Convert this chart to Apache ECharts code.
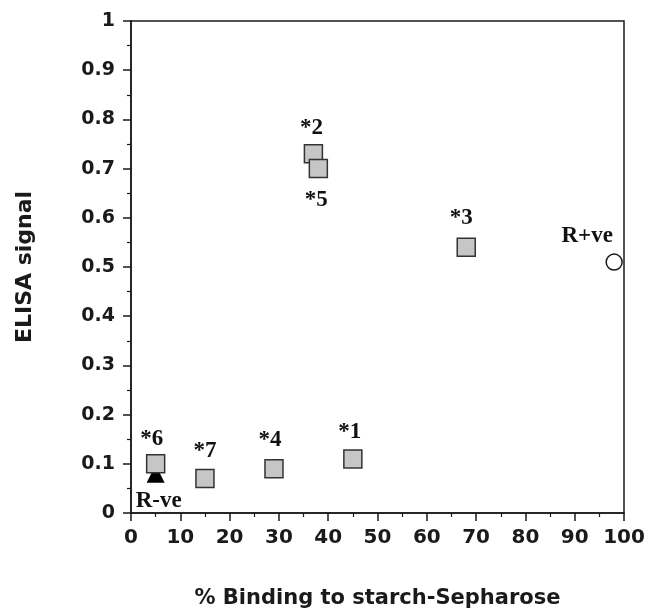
<!DOCTYPE html>
<html>
<head>
<meta charset="utf-8">
<script src="https://cdn.jsdelivr.net/npm/echarts@6/dist/echarts.min.js"></script>
<style>
  html, body { margin: 0; padding: 0; background: #fff; }
  #chart { width: 664px; height: 612px; }
</style>
</head>
<body>
<div id="chart"></div>
<script>
  // clones (squares)
  var cloneNames = ['*2', '*5', '*3', '*1', '*4', '*6', '*7']
  var cloneBinding = [37, 38, 68, 45, 29, 5, 15]
  var cloneElisa = [0.73, 0.70, 0.54, 0.11, 0.09, 0.10, 0.07]

  // controls
  var negName = 'R-ve'
  var negBinding = 5
  var negElisa = 0.08
  var posName = 'R+ve'
  var posBinding = 98
  var posElisa = 0.51

  // label placement relative to the marker centre
  var labelOffset = {
    '*1': [-3, -27], '*2': [-2, -26], '*3': [-5, -29], '*4': [-4, -29],
    '*5': [-2, 31], '*6': [-4, -25], '*7': [0, -27],
    'R-ve': [3, 27], 'R+ve': [-27, -26]
  }

  var serif = '"Liberation Serif", "DejaVu Serif", serif'
  var sans = '"DejaVu Sans", "Liberation Sans", sans-serif'
  var ink = '#1a1a1a'

  function pointLabel (name) {
    return {
      show: true,
      position: 'inside',
      offset: labelOffset[name],
      formatter: name,
      color: '#111',
      fontFamily: serif,
      fontWeight: 'bold',
      fontSize: 23
    }
  }

  var cloneData = cloneNames.map(function (n, i) {
    return { name: n, value: [cloneBinding[i], cloneElisa[i]], label: pointLabel(n) }
  })

  var myChart = echarts.init(document.getElementById('chart'))
  myChart.setOption({
    animation: false,
    backgroundColor: '#fff',
    grid: {
      left: 131,
      right: 40,
      top: 21,
      bottom: 99,
      outerBoundsMode: 'none',
      show: true,
      borderColor: ink,
      borderWidth: 1.5
    },
    xAxis: {
      type: 'value',
      min: 0,
      max: 100,
      interval: 10,
      name: '% Binding to starch-Sepharose',
      nameLocation: 'middle',
      nameGap: 75,
      nameTextStyle: { color: ink, fontFamily: sans, fontWeight: 'bold', fontSize: 21 },
      axisLine: { lineStyle: { color: ink, width: 1.5 } },
      axisTick: { show: true, length: 8, lineStyle: { color: ink, width: 1.5 } },
      minorTick: { show: true, splitNumber: 2, length: 4, lineStyle: { color: ink, width: 1.2 } },
      splitLine: { show: false },
      axisLabel: { color: ink, fontFamily: sans, fontWeight: 'bold', fontSize: 20, margin: 15 }
    },
    yAxis: {
      type: 'value',
      min: 0,
      max: 1,
      interval: 0.1,
      name: 'ELISA signal',
      nameLocation: 'middle',
      nameGap: 95,
      nameRotate: 90,
      nameTextStyle: { color: ink, fontFamily: sans, fontWeight: 'bold', fontSize: 22 },
      axisLine: { lineStyle: { color: ink, width: 1.5 } },
      axisTick: { show: true, length: 8, lineStyle: { color: ink, width: 1.5 } },
      minorTick: { show: true, splitNumber: 2, length: 4, lineStyle: { color: ink, width: 1.2 } },
      splitLine: { show: false },
      axisLabel: { color: ink, fontFamily: sans, fontWeight: 'bold', fontSize: 19, margin: 16 }
    },
    series: [
      {
        name: negName,
        type: 'scatter',
        symbol: 'triangle',
        symbolSize: 18,
        itemStyle: { color: '#000', opacity: 1 },
        data: [{ name: negName, value: [negBinding, negElisa], label: pointLabel(negName) }]
      },
      {
        name: 'clones',
        type: 'scatter',
        symbol: 'rect',
        symbolSize: 18,
        itemStyle: { color: '#c6c6c6', borderColor: '#333', borderWidth: 1.5, opacity: 1 },
        data: cloneData
      },
      {
        name: posName,
        type: 'scatter',
        symbol: 'circle',
        symbolSize: 16,
        itemStyle: { color: '#fff', borderColor: ink, borderWidth: 1.5, opacity: 1 },
        data: [{ name: posName, value: [posBinding, posElisa], label: pointLabel(posName) }]
      }
    ]
  })
</script>
</body>
</html>
